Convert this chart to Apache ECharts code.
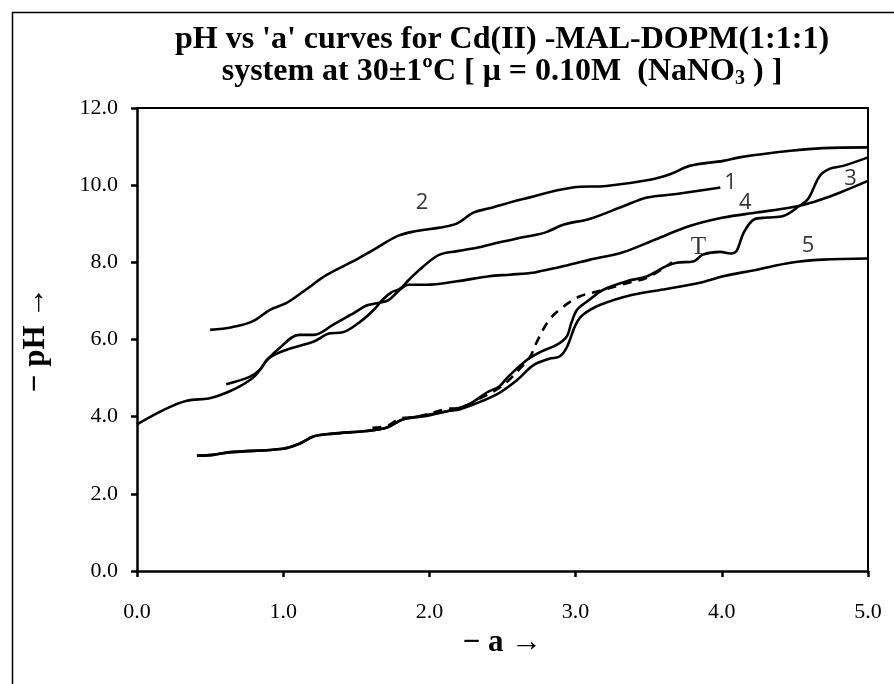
<!DOCTYPE html>
<html>
<head>
<meta charset="utf-8">
<script src="https://cdn.jsdelivr.net/npm/echarts@6/dist/echarts.min.js"></script>
<style>html,body{margin:0;padding:0;background:#fff}#c{width:894px;height:684px}</style>
</head>
<body>
<div id="c"></div>
<script>
// ---- data ----
const xTicks = [0, 1, 2, 3, 4, 5];
const yTicks = [0, 2, 4, 6, 8, 10, 12];

const curve1 = [[0.61,4.84],[0.77,5.03],[0.84,5.21],[0.90,5.51],[1.02,5.73],[1.21,5.95],[1.32,6.16],[1.40,6.18],[1.53,6.47],[1.62,6.77],[1.68,7.03],[1.74,7.22],[1.80,7.32],[1.86,7.55],[1.96,7.90],[2.07,8.20],[2.19,8.29],[2.35,8.40],[2.48,8.52],[2.60,8.62],[2.79,8.77],[2.92,8.98],[3.10,9.13],[3.33,9.46],[3.49,9.68],[3.69,9.77],[3.99,9.94]];

const curve2 = [[0.50,6.25],[0.65,6.32],[0.79,6.47],[0.91,6.77],[1.02,6.94],[1.14,7.25],[1.30,7.68],[1.48,8.03],[1.62,8.33],[1.78,8.68],[1.91,8.81],[2.07,8.90],[2.19,9.01],[2.30,9.29],[2.41,9.40],[2.64,9.64],[2.98,9.94],[3.21,9.98],[3.51,10.14],[3.65,10.29],[3.78,10.50],[4.01,10.63],[4.12,10.72],[4.47,10.89],[4.69,10.96],[5.00,10.98]];

const curve3 = [[0.41,2.99],[0.52,3.01],[0.64,3.08],[1.00,3.17],[1.11,3.30],[1.21,3.49],[1.34,3.56],[1.57,3.63],[1.71,3.72],[1.82,3.93],[1.98,4.04],[2.16,4.18],[2.28,4.34],[2.39,4.62],[2.48,4.79],[2.53,5.00],[2.66,5.45],[2.76,5.68],[2.87,5.86],[2.94,6.08],[2.97,6.42],[3.01,6.77],[3.08,6.99],[3.19,7.29],[3.35,7.51],[3.49,7.64],[3.62,7.90],[3.69,7.99],[3.81,8.03],[3.87,8.20],[3.99,8.27],[4.06,8.23],[4.10,8.29],[4.15,8.77],[4.22,9.11],[4.31,9.16],[4.42,9.20],[4.53,9.46],[4.59,9.64],[4.67,10.24],[4.74,10.43],[4.83,10.50],[5.00,10.72]];

const curve4 = [[0.00,3.80],[0.18,4.17],[0.34,4.41],[0.49,4.47],[0.57,4.56],[0.69,4.76],[0.80,5.03],[0.89,5.47],[0.96,5.73],[1.11,6.12],[1.21,6.12],[1.34,6.38],[1.48,6.68],[1.57,6.88],[1.64,6.94],[1.72,7.02],[1.80,7.30],[1.86,7.42],[1.98,7.42],[2.19,7.51],[2.41,7.64],[2.55,7.68],[2.71,7.73],[2.78,7.79],[2.94,7.92],[3.10,8.07],[3.33,8.27],[3.55,8.60],[3.78,8.94],[4.01,9.16],[4.24,9.29],[4.47,9.42],[4.58,9.51],[4.69,9.64],[4.81,9.81],[5.00,10.11]];

const curve5 = [[0.41,2.99],[0.52,3.01],[0.64,3.08],[1.00,3.17],[1.11,3.30],[1.21,3.49],[1.34,3.56],[1.57,3.63],[1.71,3.72],[1.82,3.93],[1.98,4.02],[2.12,4.14],[2.21,4.19],[2.37,4.42],[2.48,4.62],[2.60,4.95],[2.71,5.33],[2.82,5.50],[2.89,5.56],[2.94,5.80],[3.00,6.38],[3.05,6.64],[3.17,6.90],[3.39,7.16],[3.62,7.31],[3.85,7.47],[4.01,7.64],[4.24,7.81],[4.47,7.99],[4.69,8.07],[5.00,8.10]];

const curveT = [[1.61,3.71],[1.71,3.76],[1.80,3.95],[1.91,3.99],[2.12,4.20],[2.21,4.23],[2.37,4.52],[2.48,4.75],[2.55,4.97],[2.62,5.25],[2.69,5.56],[2.73,5.90],[2.82,6.51],[2.92,6.86],[3.03,7.12],[3.10,7.20],[3.21,7.31],[3.37,7.48],[3.49,7.60],[3.66,8.00]];

const curveLabels = ['1', '2', '3', '4', '5'];
const curveLabelX = [4.06, 1.95, 4.88, 4.16, 4.59];
const curveLabelY = [10.07, 9.55, 10.16, 9.55, 8.42];
const tLabel = ['T'];
const tLabelX = [3.84];
const tLabelY = [8.38];

const titleLine1 = "pH vs 'a' curves for Cd(II) -MAL-DOPM(1:1:1)";
const titleLine2a = "system at 30±1ºC [ μ = 0.10M  (NaNO";
const titleLine2sub = "3";
const titleLine2b = " ) ]";
const xName = "− a →";
const yName = "− pH →";

// ---- chart ----
const serif = "'Liberation Serif','DejaVu Serif',serif";
const sans = "'Open Sans',Lato,'Liberation Sans',sans-serif";
const chart = echarts.init(document.getElementById('c'), null, {renderer: 'canvas'});

const lineSeries = (name, data, dashed) => ({
  name, type: 'line', data, xAxisIndex: 0, yAxisIndex: 0,
  smooth: 0.35, showSymbol: false, symbol: 'none', silent: true,
  lineStyle: {color: '#000', width: 2.6, type: dashed ? [9, 7] : 'solid'},
  z: 3
});

chart.setOption({
  animation: false,
  backgroundColor: '#fff',
  title: {
    text: '{t|' + titleLine1 + '}\n{t|' + titleLine2a + '}{s|' + titleLine2sub + '}{t|' + titleLine2b + '}',
    left: 497, top: 19, textAlign: 'center',
    textStyle: {
      rich: {
        t: {fontFamily: serif, fontWeight: 'bold', fontSize: 32, color: '#000', lineHeight: 32},
        s: {fontFamily: serif, fontWeight: 'bold', fontSize: 20, color: '#000', lineHeight: 32, padding: [14, 0, 0, 0]}
      }
    }
  },
  graphic: [{
    type: 'rect', shape: {x: 12.5, y: 12.5, width: 1000, height: 800},
    style: {fill: 'none', stroke: '#000', lineWidth: 1.5}, silent: true
  }],
  grid: {left: 137, right: 26, top: 108, bottom: 113, containLabel: false},
  xAxis: [{
    type: 'value', min: xTicks[0], max: xTicks[xTicks.length - 1], interval: 1,
    name: xName, nameLocation: 'middle', nameGap: 44,
    nameTextStyle: {fontFamily: serif, fontWeight: 'bold', fontSize: 31, color: '#000'},
    axisLine: {show: true, onZero: false, lineStyle: {color: '#000', width: 2.5}},
    axisTick: {show: true, length: 6, lineStyle: {color: '#000', width: 2.5}},
    axisLabel: {fontFamily: serif, fontSize: 22, color: '#000', margin: 30, formatter: v => v.toFixed(1)},
    splitLine: {show: false}
  }, {
    type: 'value', position: 'top', min: xTicks[0], max: xTicks[xTicks.length - 1],
    axisLine: {show: true, onZero: false, lineStyle: {color: '#000', width: 2}},
    axisTick: {show: false}, axisLabel: {show: false}, splitLine: {show: false}
  }],
  yAxis: [{
    type: 'value', min: yTicks[0], max: yTicks[yTicks.length - 1], interval: 2,
    name: yName, nameLocation: 'middle', nameGap: 86, nameRotate: 90,
    nameTextStyle: {fontFamily: serif, fontWeight: 'bold', fontSize: 31, color: '#000'},
    axisLine: {show: true, onZero: false, lineStyle: {color: '#000', width: 2.5}},
    axisTick: {show: true, length: 6, lineStyle: {color: '#000', width: 2.5}},
    axisLabel: {fontFamily: serif, fontSize: 22, color: '#000', margin: 19, formatter: v => v.toFixed(1)},
    splitLine: {show: false}
  }, {
    type: 'value', position: 'right', min: yTicks[0], max: yTicks[yTicks.length - 1],
    axisLine: {show: true, onZero: false, lineStyle: {color: '#000', width: 2}},
    axisTick: {show: false}, axisLabel: {show: false}, splitLine: {show: false}
  }],
  series: [
    lineSeries('Curve 1', curve1),
    lineSeries('Curve 2', curve2),
    lineSeries('Curve 3', curve3),
    lineSeries('Curve 4', curve4),
    lineSeries('Curve 5', curve5),
    lineSeries('T', curveT, true),
    {
      type: 'scatter', silent: true, symbolSize: 0, z: 5,
      data: curveLabels.map((n, i) => [curveLabelX[i], curveLabelY[i], n]),
      label: {show: true, position: 'inside', formatter: p => p.value[2],
        fontFamily: sans, fontSize: 22, color: '#000'}
    },
    {
      type: 'scatter', silent: true, symbolSize: 0, z: 5,
      data: tLabel.map((n, i) => [tLabelX[i], tLabelY[i], n]),
      label: {show: true, position: 'inside', formatter: p => p.value[2],
        fontFamily: serif, fontSize: 25, color: '#000'}
    }
  ]
});
</script>
</body>
</html>
